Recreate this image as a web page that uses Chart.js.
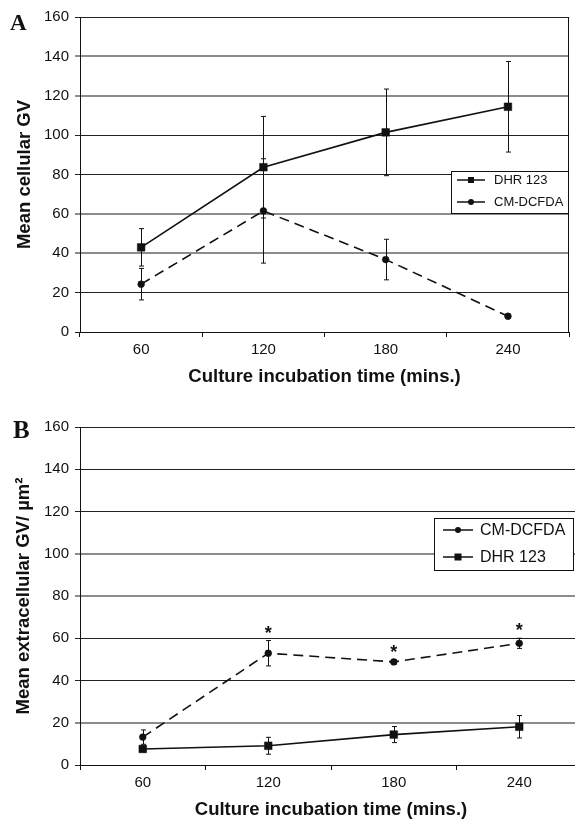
<!DOCTYPE html>
<html>
<head>
<meta charset="utf-8">
<script src="https://cdn.jsdelivr.net/npm/chart.js@4.4.1/dist/chart.umd.min.js"></script>
<style>
  html, body { margin: 0; padding: 0; background: #fff; overflow: hidden; }
  body { width: 575px; height: 819px; position: relative; }
  canvas { position: absolute; left: 0; }
  #chartA { top: 0; }
  #chartB { top: 400px; }
  .panel-label {
    position: absolute;
    font-family: "Liberation Serif", "Times New Roman", serif;
    font-weight: bold;
    line-height: 1;
    color: #111;
  }
</style>
</head>
<body>
<canvas id="chartA" width="575" height="400"></canvas>
<canvas id="chartB" width="590" height="421"></canvas>
<div class="panel-label" style="left:10px;top:11px;font-size:23px">A</div>
<div class="panel-label" style="left:13px;top:417px;font-size:25px">B</div>

<script>
// categories and tick labels
const timeLabels = ["60", "120", "180", "240"];
const yTickValues = [0, 20, 40, 60, 80, 100, 120, 140, 160];
const xTitle = "Culture incubation time (mins.)";

// panel A - mean cellular GV
const cellDhr = [43, 83.7, 101.4, 114.4];
const cellDhrErr = [9.5, 25.8, 22, 23];
const cellCm = [24.3, 61.5, 36.8, 8];
const cellCmErr = [8, 26.5, 10.3, 0];

// panel B - mean extracellular GV / um2
const extraCm = [13.2, 52.9, 48.8, 57.6];
const extraCmErr = [3.4, 6, 1, 2.4];
const extraCmStars = [false, true, true, true];
const extraDhr = [7.6, 9.1, 14.4, 18.1];
const extraDhrErr = [1.4, 4, 3.8, 5.3];

Chart.defaults.font.family = '"Liberation Sans", Arial, sans-serif';
Chart.defaults.color = "#111";

const INK = "#111";

// vertical error bars (+ significance stars) drawn from the dataset values
const errorBars = {
    id: "errorBars",
    beforeDatasetsDraw(chart) {
        const ctx = chart.ctx;
        const y = chart.scales.y;
        chart.data.datasets.forEach((ds, i) => {
            if (!ds.errors) return;
            const meta = chart.getDatasetMeta(i);
            ctx.save();
            ctx.strokeStyle = INK;
            ctx.lineWidth = 1;
            meta.data.forEach((pt, j) => {
                const e = ds.errors[j];
                if (!e) return;
                const top = y.getPixelForValue(ds.data[j] + e);
                const bot = y.getPixelForValue(ds.data[j] - e);
                const x = Math.round(pt.x) + 0.5;
                ctx.beginPath();
                ctx.moveTo(x, top);
                ctx.lineTo(x, bot);
                ctx.moveTo(x - 2.5, top);
                ctx.lineTo(x + 2.5, top);
                ctx.moveTo(x - 2.5, bot);
                ctx.lineTo(x + 2.5, bot);
                ctx.stroke();
            });
            ctx.restore();
        });
    },
    afterDatasetsDraw(chart) {
        const ctx = chart.ctx;
        const y = chart.scales.y;
        chart.data.datasets.forEach((ds, i) => {
            if (!ds.stars) return;
            const meta = chart.getDatasetMeta(i);
            ctx.save();
            ctx.fillStyle = INK;
            ctx.font = 'bold 18px "Liberation Sans", Arial, sans-serif';
            ctx.textAlign = "center";
            ctx.textBaseline = "alphabetic";
            meta.data.forEach((pt, j) => {
                if (!ds.stars[j]) return;
                const top = y.getPixelForValue(ds.data[j] + (ds.errors[j] || 0));
                ctx.fillText("*", pt.x, top - 2);
            });
            ctx.restore();
        });
    },
};

// boxed legend sitting inside the plot
const boxLegend = {
    id: "boxLegend",
    afterDraw(chart, args, o) {
        const ctx = chart.ctx;
        ctx.save();
        ctx.fillStyle = "#fff";
        ctx.fillRect(o.x, o.y, o.w, o.h);
        ctx.strokeStyle = INK;
        ctx.lineWidth = 1;
        ctx.strokeRect(o.x + 0.5, o.y + 0.5, o.w, o.h);
        ctx.font = o.size + 'px "Liberation Sans", Arial, sans-serif';
        ctx.textBaseline = "middle";
        chart.data.datasets.forEach((ds, i) => {
            const cy = o.y + o.rowTop + i * o.rowGap;
            const x0 = o.x + o.lineStart;
            const x1 = o.x + o.lineEnd;
            const cx = (x0 + x1) / 2;
            ctx.strokeStyle = INK;
            ctx.lineWidth = 1.5;
            ctx.beginPath();
            ctx.moveTo(x0, cy);
            ctx.lineTo(x1, cy);
            ctx.stroke();
            ctx.fillStyle = INK;
            if (ds.pointStyle === "rect") {
                ctx.fillRect(cx - o.sq / 2, cy - o.sq / 2, o.sq, o.sq);
            } else {
                ctx.beginPath();
                ctx.arc(cx, cy, o.dot, 0, Math.PI * 2);
                ctx.fill();
            }
            ctx.fillText(ds.label, o.x + o.textStart, cy + 0.5);
        });
        ctx.restore();
    },
};

// right-hand frame line of the plot area
const frame = {
    id: "frame",
    afterDraw(chart) {
        const { ctx, chartArea: a } = chart;
        ctx.save();
        ctx.strokeStyle = INK;
        ctx.lineWidth = 1;
        ctx.beginPath();
        ctx.moveTo(Math.round(a.right) - 0.5, a.top);
        ctx.lineTo(Math.round(a.right) - 0.5, a.bottom);
        ctx.stroke();
        ctx.restore();
    },
};

function dhrSet(data, errors) {
    return {
        label: "DHR 123",
        data: data,
        errors: errors,
        borderColor: INK,
        backgroundColor: INK,
        borderWidth: 1.6,
        pointStyle: "rect",
        pointRadius: 5.4,
        pointBorderWidth: 0.5,
        tension: 0,
    };
}

function cmSet(data, errors, stars) {
    return {
        label: "CM-DCFDA",
        data: data,
        errors: errors,
        stars: stars,
        borderColor: INK,
        backgroundColor: INK,
        borderWidth: 1.6,
        borderDash: [10, 6],
        pointStyle: "circle",
        pointRadius: 3.4,
        pointBorderWidth: 0.5,
        tension: 0,
    };
}

function makeOptions(cfg) {
    // some gridlines in the scan look soft grey, others crisp black
    const soft = (c) => c.tick && cfg.softGrid.includes(c.tick.value);
    return {
        responsive: false,
        animation: false,
        events: [],
        layout: { padding: cfg.padding },
        plugins: {
            legend: { display: false },
            tooltip: { enabled: false },
            boxLegend: cfg.legend,
        },
        scales: {
            x: {
                type: "category",
                offset: true,
                grid: {
                    offset: true,
                    drawOnChartArea: false,
                    drawTicks: true,
                    tickLength: 5,
                    color: INK,
                },
                border: { color: INK },
                ticks: { font: { size: 15 }, padding: 4, maxRotation: 0 },
                title: {
                    display: true,
                    text: xTitle,
                    font: { size: 18.5, weight: "bold" },
                    padding: { top: 0, bottom: cfg.xTitlePad },
                },
                afterFit: (s) => { s.height = cfg.xHeight; },
            },
            y: {
                min: 0,
                max: 160,
                afterBuildTicks: (s) => { s.ticks = yTickValues.map((v) => ({ value: v })); },
                ticks: { font: { size: 15 }, padding: 6 },
                grid: {
                    color: (c) => (soft(c) ? "#8c8c8c" : "#222"),
                    lineWidth: (c) => (soft(c) ? 2 : 1),
                    tickLength: 5,
                },
                border: { color: INK },
                title: {
                    display: true,
                    text: cfg.yTitle,
                    font: { size: 18.5, weight: "bold" },
                    padding: { top: cfg.yTitlePad, bottom: 0 },
                },
                afterFit: (s) => { s.width = 80; },
            },
        },
    };
}

new Chart(document.getElementById("chartA"), {
    type: "line",
    data: {
        labels: timeLabels,
        datasets: [dhrSet(cellDhr, cellDhrErr), cmSet(cellCm, cellCmErr)],
    },
    options: makeOptions({
        padding: { top: 17, right: 3, left: 0, bottom: 0 },
        xHeight: 68,
        xTitlePad: 12,
        yTitle: "Mean cellular GV",
        yTitlePad: 14,
        softGrid: [140, 120, 60, 40],
        legend: { x: 451, y: 171, w: 117, h: 42, rowTop: 9, rowGap: 22, lineStart: 6, lineEnd: 34, textStart: 43, size: 13, sq: 6, dot: 3 },
    }),
    plugins: [errorBars, frame, boxLegend],
});

new Chart(document.getElementById("chartB"), {
    type: "line",
    data: {
        labels: timeLabels,
        datasets: [cmSet(extraCm, extraCmErr, extraCmStars), dhrSet(extraDhr, extraDhrErr)],
    },
    options: makeOptions({
        padding: { top: 27, right: 8, left: 0, bottom: 0 },
        xHeight: 56,
        xTitlePad: 0,
        yTitle: "Mean extracellular GV/ µm²",
        yTitlePad: 13,
        softGrid: [100, 80, 20],
        legend: { x: 434, y: 118, w: 139, h: 52, rowTop: 12, rowGap: 27, lineStart: 9, lineEnd: 39, textStart: 46, size: 16, sq: 7, dot: 3 },
    }),
    plugins: [errorBars, frame, boxLegend],
});
</script>
</body>
</html>
